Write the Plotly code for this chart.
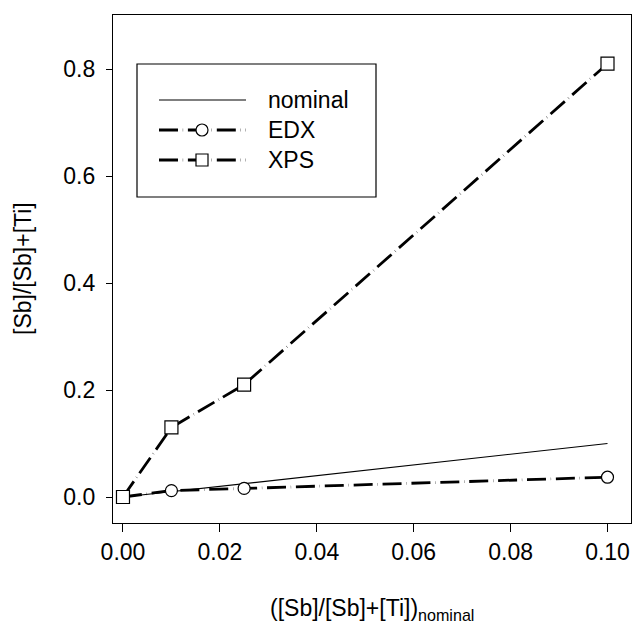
import plotly.graph_objects as go

# Sb fraction: measured vs. nominal
x_nominal = [0.0, 0.1]
y_nominal = [0.0, 0.1]

x_edx = [0.0, 0.01, 0.025, 0.1]
y_edx = [0.0, 0.012, 0.016, 0.037]

x_xps = [0.0, 0.01, 0.025, 0.1]
y_xps = [0.0, 0.13, 0.21, 0.81]

x_ticks = [0.0, 0.02, 0.04, 0.06, 0.08, 0.10]
y_ticks = [0.0, 0.2, 0.4, 0.6, 0.8]

legend_labels = ["nominal", "EDX", "XPS"]

FONT = "Arial, Liberation Sans, sans-serif"
DASH = "19px,4.8px,0.3px,4.8px"
W, H = 633, 626
M_L, M_R, M_T, M_B = 113, 2, 15, 103
PW, PH = W - M_L - M_R, H - M_T - M_B


def px_to_paper(px, py):
    return (px - M_L) / PW, (H - M_B - py) / PH


fig = go.Figure()

fig.add_trace(go.Scatter(x=x_nominal, y=y_nominal, mode="lines",
                         line=dict(color="black", width=1.2), showlegend=False))
fig.add_trace(go.Scatter(x=x_edx, y=y_edx, mode="lines+markers",
                         line=dict(color="black", width=2.8, dash=DASH),
                         marker=dict(symbol="circle", size=12, color="white",
                                     line=dict(color="black", width=1.2)),
                         showlegend=False))
fig.add_trace(go.Scatter(x=x_xps, y=y_xps, mode="lines+markers",
                         line=dict(color="black", width=2.8, dash=DASH),
                         marker=dict(symbol="square", size=13, color="white",
                                     line=dict(color="black", width=1.2)),
                         showlegend=False))

# Legend key drawn on an overlay axis spanning the plot area in [0, 1]
lx0, _ = px_to_paper(159, 0)
lx1, _ = px_to_paper(246, 0)
lxm, _ = px_to_paper(202, 0)
ltx, _ = px_to_paper(266, 0)
rows_y = [px_to_paper(0, py)[1] for py in (100, 130, 160)]
styles = [
    (dict(color="black", width=1.2), None),
    (dict(color="black", width=2.8, dash=DASH), "circle"),
    (dict(color="black", width=2.8, dash=DASH), "square"),
]
for (ln, sym), ly, lab in zip(styles, rows_y, legend_labels):
    fig.add_trace(go.Scatter(x=[lx0, lx1], y=[ly, ly], mode="lines", line=ln,
                             xaxis="x2", yaxis="y2", showlegend=False,
                             hoverinfo="skip"))
    if sym:
        fig.add_trace(go.Scatter(x=[lxm], y=[ly], mode="markers",
                                 marker=dict(symbol=sym, size=12, color="white",
                                             line=dict(color="black", width=1.2)),
                                 xaxis="x2", yaxis="y2", showlegend=False,
                                 hoverinfo="skip"))
    fig.add_annotation(x=ltx, y=ly, xref="x2", yref="y2", text=lab,
                       showarrow=False, xanchor="left", yanchor="middle",
                       font=dict(family=FONT, size=23, color="black"))

bx0, by1 = px_to_paper(137, 64)
bx1, by0 = px_to_paper(376, 197)
fig.add_shape(type="rect", xref="paper", yref="paper", x0=bx0, x1=bx1,
              y0=by0, y1=by1, line=dict(color="black", width=1.2),
              fillcolor="rgba(0,0,0,0)")

# Axis titles
fig.add_annotation(x=0.5, y=-0.0, xref="paper", yref="paper", yshift=-70,
                   text="([Sb]/[Sb]+[Ti])<sub>nominal</sub>", showarrow=False,
                   xanchor="center", yanchor="top",
                   font=dict(family=FONT, size=23, color="black"))
fig.add_annotation(x=0, y=0.5, xref="paper", yref="paper", xshift=-90,
                   text="[Sb]/[Sb]+[Ti]", showarrow=False, textangle=-90,
                   xanchor="center", yanchor="middle",
                   font=dict(family=FONT, size=23, color="black"))

axis_common = dict(showline=True, linecolor="black", linewidth=1.2, mirror=True,
                   ticks="outside", tickcolor="black", tickwidth=1.2,
                   showgrid=False, zeroline=False,
                   tickfont=dict(family=FONT, size=23, color="black"))

fig.update_layout(
    width=W, height=H,
    margin=dict(l=M_L, r=M_R, t=M_T, b=M_B),
    paper_bgcolor="white", plot_bgcolor="white",
    xaxis=dict(range=[-0.00206, 0.10485], tickvals=x_ticks,
               tickformat=".2f", ticklen=8, **axis_common),
    yaxis=dict(range=[-0.0486, 0.901], tickvals=y_ticks,
               tickformat=".1f", ticklen=6, ticklabelstandoff=6, **axis_common),
    xaxis2=dict(range=[0, 1], overlaying="x", visible=False, fixedrange=True),
    yaxis2=dict(range=[0, 1], overlaying="y", visible=False, fixedrange=True),
    showlegend=False,
)

fig.write_html("out.html")
